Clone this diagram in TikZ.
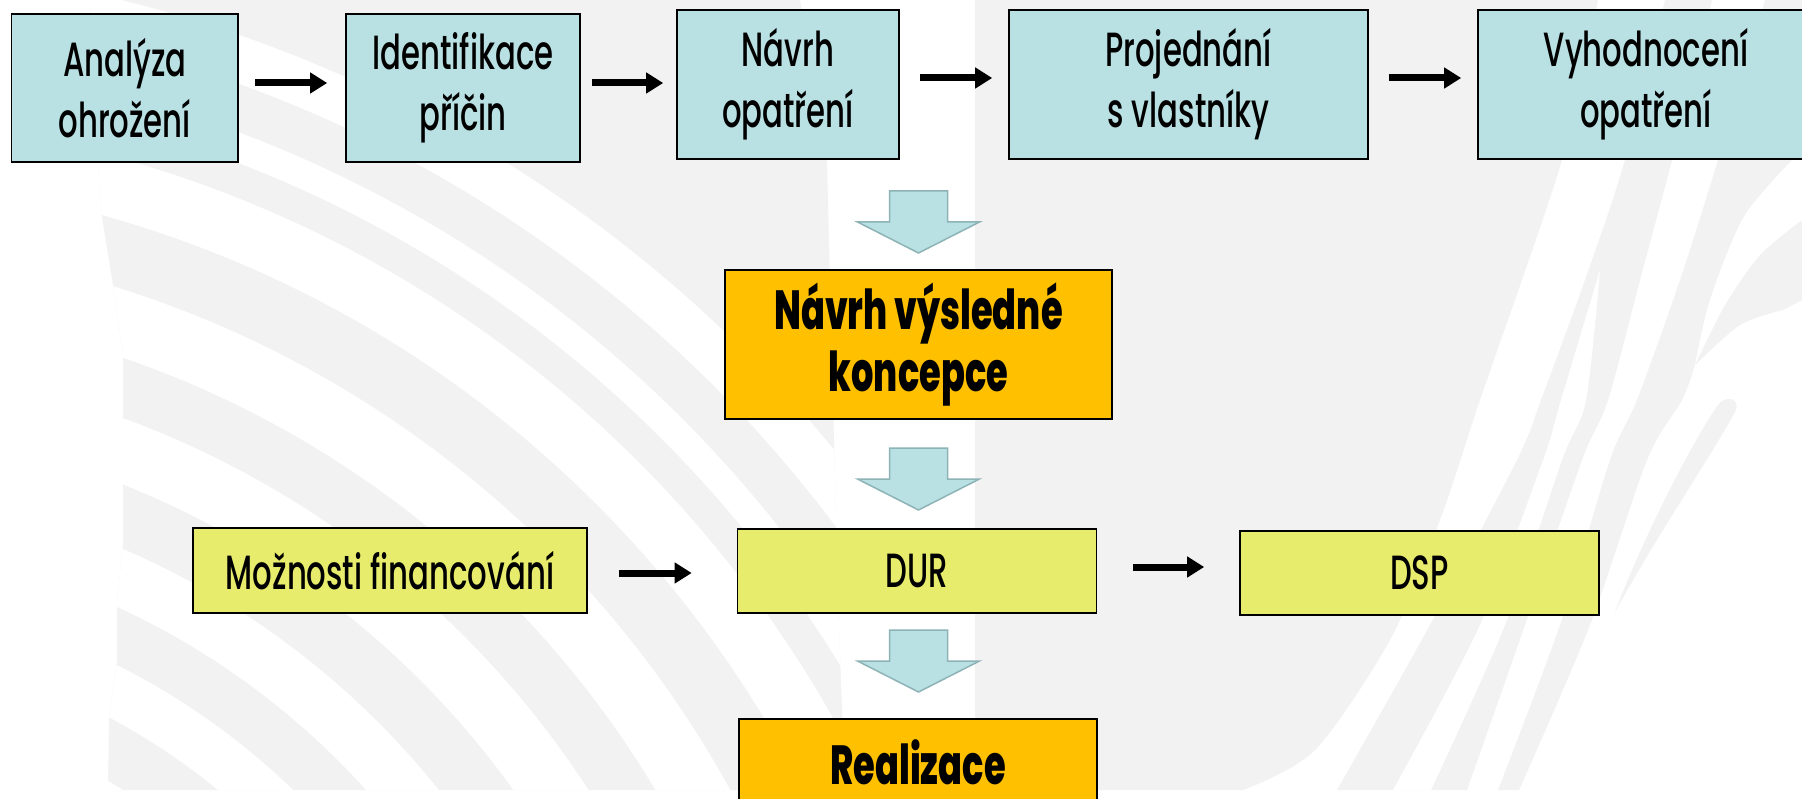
\documentclass[tikz,border=0pt]{standalone}
\usepackage{fontspec}
\setmainfont{Poppins}[UprightFont={* Medium}, BoldFont={* ExtraBold}, FakeStretch=0.64]
\usetikzlibrary{arrows.meta}
\definecolor{bggray}{HTML}{F2F2F2}
\definecolor{boxblue}{HTML}{B9E0E3}
\definecolor{arrowedge}{HTML}{8DB3B6}
\definecolor{boxyellow}{HTML}{E8EC6C}
\definecolor{boxorange}{HTML}{FFC000}
\tikzset{
  bg/.style={fill=bggray},
  boxbase/.style={draw=black, line width=1.6pt, inner sep=0pt, align=center},
  procbox/.style={boxbase, fill=boxblue, font=\fontsize{48}{61}\selectfont},
  keybox/.style={boxbase, fill=boxorange, font=\fontsize{55}{62}\selectfont\bfseries},
  docbox/.style={boxbase, fill=boxyellow, font=\fontsize{48}{61}\selectfont},
  blk/.style={line width=7pt, -{Triangle[length=17pt,width=20pt]}},
  downarrow/.pic={\filldraw[fill=boxblue, draw=arrowedge, line width=1.5pt, line join=miter]
     (-29,0) -- (29,0) -- (29,31) -- (61,31) -- (0,62) -- (-61,31) -- (-29,31) -- cycle;}
}
\begin{document}
\begin{tikzpicture}[x=1pt,y=-1pt]
\useasboundingbox (0,0) rectangle (1802,799);
\fill[white] (0,0) rectangle (1802,799);
% ---------- background watermark: left fan ----------
\begin{scope}
\clip (90,0) -- (102,217) -- (113,285) -- (123,353) -- (123,543) -- (117,603) -- (117,661)
      -- (109,717) -- (108,790) -- (845,790) -- (838,600) -- (827,162) -- (800,0) -- cycle;
\fill[bg] (0,0) rectangle (900,799);
\fill[white] (-200,1300) circle (603.5pt);
\fill[white,even odd rule] (-200,1300) circle (709.4pt) (-200,1300) circle (659.4pt);
\fill[white,even odd rule] (-200,1300) circle (817.3pt) (-200,1300) circle (762pt);
\fill[white,even odd rule] (-200,1300) circle (938.9pt) (-200,1300) circle (876.9pt);
\fill[white,even odd rule] (-200,1300) circle (1060.7pt) (-200,1300) circle (995.8pt);
\fill[white,even odd rule] (-200,1300) circle (1185.4pt) (-200,1300) circle (1125.9pt);
\fill[white,even odd rule] (-200,1300) circle (1247pt) (-200,1300) circle (1218.3pt);
\fill[white,even odd rule] (-200,1300) circle (1338.7pt) (-200,1300) circle (1292.6pt);
\end{scope}
% ---------- background watermark: centre and right ----------
\fill[bg] plot[smooth] coordinates {(1598,0) (1562,160) (1480,400) (1440,520) (1391,638) (1315,750) (1243,790)}
   -- (975,790) -- (975,0) -- cycle;
\fill[bg] plot[smooth] coordinates {(1665,0) (1625,160) (1585,280) (1541,400) (1517,460) (1430,625) (1337,790)}
   -- plot[smooth] coordinates {(1467,790) (1525,625) (1582,460) (1608,400) (1640,280) (1672,160) (1712,0)} -- cycle;
\fill[white] plot[smooth] coordinates {(1393,790) (1480,625) (1543,460) (1561,400) (1600,270)}
   -- plot[smooth] coordinates {(1600,270) (1586,400) (1562,460) (1505,625) (1431,790)} -- cycle;
\fill[bg] plot[smooth] coordinates {(1765,0) (1718,160) (1680,280) (1637,400) (1610,460) (1560,625) (1498,790)}
   -- plot[smooth] coordinates {(1519,790) (1590,625) (1647,460) (1682,400) (1695,365)}
   -- plot[smooth] coordinates {(1695,365) (1740,325) (1783,310)} -- (1802,300) -- (1802,0) -- cycle;
\fill[white] plot[smooth] coordinates {(1695,365) (1710,300) (1745,215) (1802,150)}
   -- (1802,220) -- plot[smooth] coordinates {(1802,220) (1760,255) (1725,305) (1695,365)} -- cycle;
\fill[bg] (1615,612) .. controls (1640,545) and (1690,445) .. (1718,405)
   .. controls (1725,395) and (1740,398) .. (1736,410)
   .. controls (1712,455) and (1660,530) .. (1615,612) -- cycle;
% ---------- nodes ----------
\node[procbox, minimum width=226.5pt, minimum height=148pt] (b1) at (124.75,88) {Analýza\\ohrožení};
\node[procbox, minimum width=234pt, minimum height=148pt] (b2) at (463,88) {Identifikace\\příčin};
\node[procbox, minimum width=222pt, minimum height=149pt] (b3) at (788,84.5) {Návrh\\opatření};
\node[procbox, minimum width=359pt, minimum height=149pt] (b4) at (1188.5,84.5) {Projednání\\s vlastníky};
\node[procbox, minimum width=336pt, minimum height=149pt] (b5) at (1646,84.5) {Vyhodnocení\\opatření};
\node[keybox, minimum width=387pt, minimum height=149pt] (konc) at (918.5,344.5) {Návrh výsledné\\koncepce};
\node[docbox, minimum width=394pt, minimum height=85pt] (fin) at (390,570.5) {Možnosti financování};
\node[docbox, minimum width=359pt, minimum height=84pt] (dur) at (917,571) {DUR};
\node[docbox, minimum width=359pt, minimum height=84pt] (dsp) at (1419.5,573) {DSP};
\node[keybox, minimum width=358pt, minimum height=82pt, text height=48pt, text depth=0pt] (real) at (918,760) {Realizace};
% ---------- connectors ----------
\draw[blk, shorten <=16pt, shorten >=18pt] (b1.east |- 0,83) -- (b2.west |- 0,83);
\draw[blk, shorten <=11pt, shorten >=13pt] (b2.east |- 0,83) -- (b3.west |- 0,83);
\draw[blk, shorten <=20pt, shorten >=16pt] (b3.east |- 0,78) -- (b4.west |- 0,78);
\draw[blk, shorten <=20pt, shorten >=16pt] (b4.east |- 0,78) -- (b5.west |- 0,78);
\draw[blk, shorten <=31pt, shorten >=45pt] (fin.east |- 0,573) -- (dur.west |- 0,573);
\draw[blk, shorten <=36pt, shorten >=35pt] (dur.east |- 0,567) -- (dsp.west |- 0,567);
\pic at (918.5,191) {downarrow};
\pic at (918.5,448) {downarrow};
\pic at (918.5,630) {downarrow};
\end{tikzpicture}
\end{document}
